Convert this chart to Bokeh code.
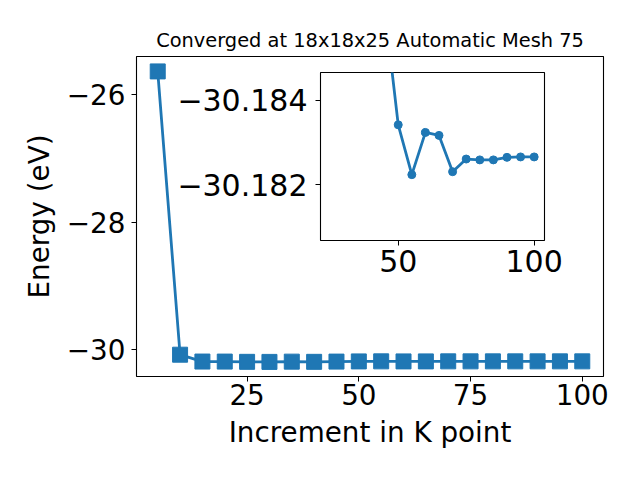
from bokeh.plotting import figure
from bokeh.layouts import column, row
from bokeh.models import Range1d, FixedTicker, CustomJSTickFormatter
from bokeh.embed import file_html
from bokeh.resources import INLINE

# ---- data ----
kpoints = [5, 10, 15, 20, 25, 30, 35, 40, 45, 50, 55, 60, 65, 70, 75, 80, 85, 90, 95, 100]
energy = [-25.634, -30.078, -30.1855, -30.186, -30.190, -30.191, -30.187, -30.190, -30.1862,
          -30.18342, -30.18224, -30.18324, -30.18317, -30.18231, -30.18261, -30.18259,
          -30.18259, -30.18265, -30.18266, -30.18266]

main_xticks = [25, 50, 75, 100]
main_yticks = [-30, -28, -26]
inset_xticks = [50, 100]
inset_yticks = [-30.184, -30.182]

title_text = "Converged at 18x18x25 Automatic Mesh 75"
xlabel = "Increment in K point"
ylabel = "Energy (eV)"

BLUE = "#1f77b4"
FONT = "DejaVu Sans"


def style_axes(fig, size, ydigits, xstandoff, ystandoff):
    for ax in (fig.xaxis[0], fig.yaxis[0]):
        ax.axis_line_color = None
        ax.major_tick_line_color = "black"
        ax.major_tick_line_width = 1
        ax.major_tick_in = 0
        ax.major_tick_out = 5
        ax.minor_tick_line_color = None
        ax.major_label_text_font = FONT
        ax.major_label_text_font_size = size
        ax.major_label_text_color = "black"
    fig.xaxis[0].major_label_standoff = xstandoff
    fig.yaxis[0].major_label_standoff = ystandoff
    fig.yaxis[0].formatter = CustomJSTickFormatter(
        code="return (tick < 0 ? '\u2212' : '') + Math.abs(tick).toFixed(%d);" % ydigits)
    fig.xaxis[0].formatter = CustomJSTickFormatter(code="return Math.abs(tick).toFixed(0);")
    fig.grid.visible = False
    fig.outline_line_color = "black"
    fig.outline_line_width = 1.1
    fig.outline_line_alpha = 1


p = figure(width=640, height=480,
           x_range=Range1d(0.25, 104.75), y_range=Range1d(-30.42, -25.40),
           output_backend="svg", toolbar_location=None,
           min_border_left=136, min_border_right=37, min_border_top=56, min_border_bottom=104,
           title=title_text)
p.title.text_font = FONT
p.title.text_font_size = "19.4px"
p.title.text_font_style = "normal"
p.title.align = "center"
p.title.text_color = "black"
p.background_fill_color = "white"
p.border_fill_color = "white"

p.line(kpoints, energy, line_width=2.8, color=BLUE)
p.scatter(kpoints, energy, marker="square", size=15, color=BLUE)

p.xaxis.ticker = FixedTicker(ticks=main_xticks)
p.yaxis.ticker = FixedTicker(ticks=main_yticks)
p.xaxis.axis_label = xlabel
p.yaxis.axis_label = ylabel
for ax in (p.xaxis[0], p.yaxis[0]):
    ax.axis_label_text_font = FONT
    ax.axis_label_text_font_size = "27.8px"
    ax.axis_label_text_font_style = "normal"
    ax.axis_label_text_color = "black"
    ax.axis_label_standoff = 8
style_axes(p, "27.8px", 0, 2, 6)

# inset: frame 224 x 168 placed over the main plot
IBL, IBR, IBT, IBB = 150, 30, 10, 50
ins = figure(width=IBL + 224 + IBR, height=IBT + 168 + IBB,
             x_range=Range1d(21.41, 103.8), y_range=Range1d(-30.18068, -30.18466),
             output_backend="svg", toolbar_location=None,
             min_border_left=IBL, min_border_right=IBR, min_border_top=IBT, min_border_bottom=IBB)
ins.background_fill_color = "white"
ins.border_fill_alpha = 0
ins.line(kpoints, energy, line_width=2.8, color=BLUE)
ins.scatter(kpoints, energy, marker="circle", size=8, color=BLUE)
ins.xaxis.ticker = FixedTicker(ticks=inset_xticks)
ins.yaxis.ticker = FixedTicker(ticks=inset_yticks)
style_axes(ins, "30px", 3, 4, 8)

top = 72 - IBT
holder = row(ins, margin=(top - 480, 0, 480 - top - (IBT + 168 + IBB), 320 - IBL))

layout = column(p, holder)

open("out.html", "w").write(file_html(layout, INLINE))
